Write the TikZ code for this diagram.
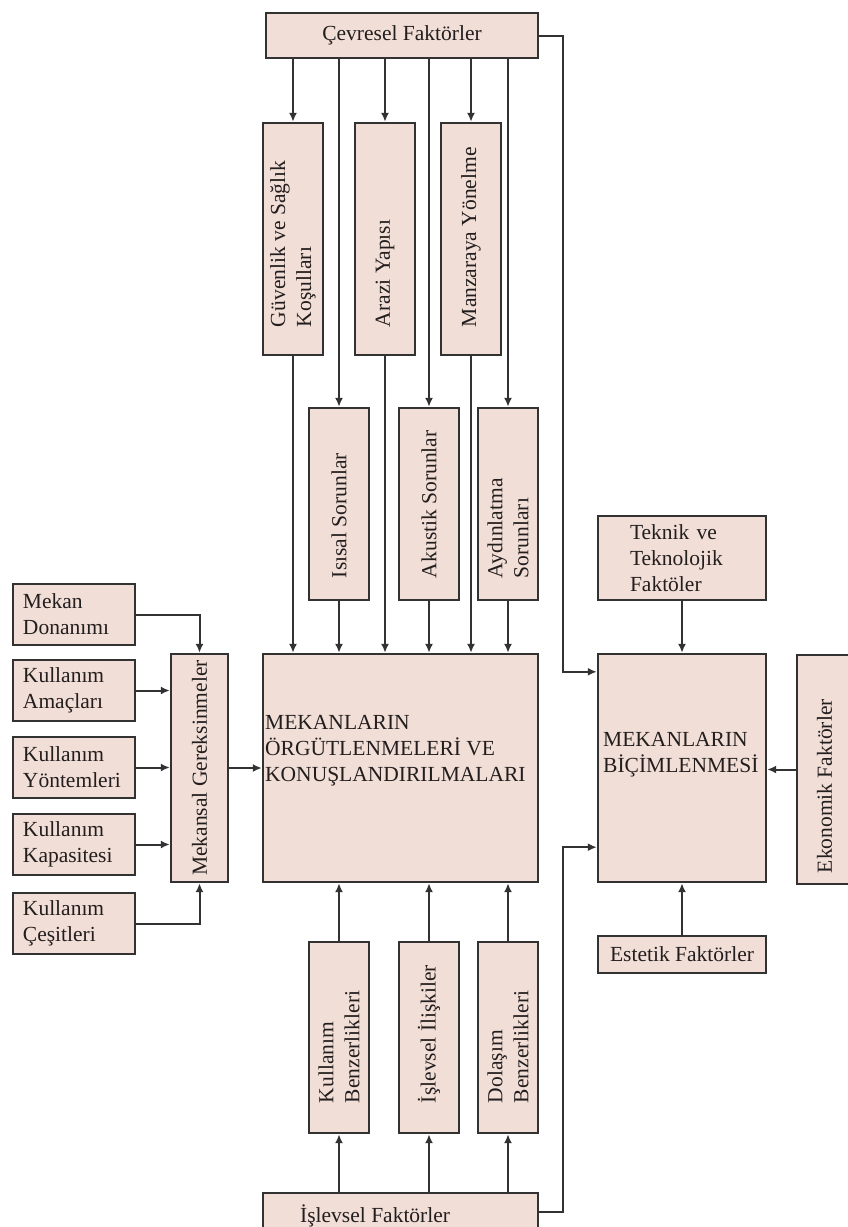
\documentclass[tikz,border=0pt]{standalone}
\usepackage{fontspec}
\setmainfont{Liberation Serif}
\usetikzlibrary{arrows.meta}

\definecolor{boxfill}{RGB}{241,222,215}
\definecolor{edge}{RGB}{50,50,50}
\definecolor{ink}{RGB}{35,30,30}
\newcommand{\vlabel}[3]{\rotatebox{90}{\parbox{#1pt}{\raggedright\leftskip=#2pt #3}}}
\newcommand{\clabel}[2]{\rotatebox{90}{\parbox{#1pt}{\centering #2}}}

\begin{document}
\begin{tikzpicture}[x=1pt, y=-1pt,
		box/.style={draw=edge, line width=2.4pt, fill=boxfill, inner sep=0pt, text=ink, font=\fontsize{21.5}{26}\selectfont},
		txt/.style={inner sep=0pt, text=ink, font=\fontsize{21.5}{26}\selectfont, align=left},
		arr/.style={draw=edge, line width=2pt, -{Latex[length=9pt,width=8pt]}}]
		\path[fill=white] (0,0) rectangle (848,1227);
		\useasboundingbox (0,0) rectangle (848,1227);
		
		\node[box, minimum width=272pt, minimum height=45pt] (cevresel) at (402,35.5) {Çevresel Faktörler};
		
		\node[box, minimum width=60pt, minimum height=232pt] (guvenlik) at (293,239) {\vlabel{232}{28}{Güvenlik ve Sağlık\\Koşulları}};
		\node[box, minimum width=60pt, minimum height=232pt] (arazi) at (385,239) {\vlabel{232}{28}{Arazi Yapısı}};
		\node[box, minimum width=60pt, minimum height=232pt] (manzara) at (471,239) {\vlabel{232}{28}{Manzaraya Yönelme}};
		
		\node[box, minimum width=60pt, minimum height=192pt] (isisal) at (339,504) {\vlabel{192}{22}{Isısal Sorunlar}};
		\node[box, minimum width=60pt, minimum height=192pt] (akustik) at (429,504) {\vlabel{192}{22}{Akustik Sorunlar}};
		\node[box, minimum width=60pt, minimum height=192pt] (aydin) at (508,504) {\vlabel{192}{22}{Aydınlatma\\Sorunları}};
		
		\node[box, minimum width=275pt, minimum height=228pt] (orgut) at (400.5,768) {};
		\node[txt, anchor=west] (orgut text) at (265,751) {MEKANLARIN\\ÖRGÜTLENMELERİ VE\\KONUŞLANDIRILMALARI};
		
		\node[box, minimum width=60pt, minimum height=191pt] (kullben) at (339,1037.5) {\vlabel{191}{30}{Kullanım\\Benzerlikleri}};
		\node[box, minimum width=60pt, minimum height=191pt] (iliski) at (429,1037.5) {\vlabel{191}{30}{İşlevsel İlişkiler}};
		\node[box, minimum width=60pt, minimum height=191pt] (dolasim) at (508,1037.5) {\vlabel{191}{30}{Dolaşım\\Benzerlikleri}};
		
		\node[box, minimum width=275pt, minimum height=38pt] (islevsel) at (400.5,1212) {};
		\node[txt, anchor=base west] (islevsel text) at (300,1222) {İşlevsel Faktörler};
		
		\node[box, minimum width=57pt, minimum height=228pt] (mekansal) at (199.5,768) {\clabel{222}{Mekansal Gereksinmeler}};
		
		\node[box, minimum width=122pt, minimum height=61pt, text width=102pt, align=left] (donanim) at (74,614.5) {Mekan\\Donanımı};
		\node[box, minimum width=122pt, minimum height=61pt, text width=102pt, align=left] (amac) at (74,690.5) {Kullanım\\Amaçları};
		\node[box, minimum width=122pt, minimum height=61pt, text width=102pt, align=left] (yontem) at (74,767.5) {Kullanım\\Yöntemleri};
		\node[box, minimum width=122pt, minimum height=61pt, text width=102pt, align=left] (kapasite) at (74,844.5) {Kullanım\\Kapasitesi};
		\node[box, minimum width=122pt, minimum height=61pt, text width=102pt, align=left] (cesit) at (74,923.5) {Kullanım\\Çeşitleri};
		
		\node[box, minimum width=168pt, minimum height=228pt] (bicim) at (682,768) {};
		\node[txt, anchor=west] (bicim text) at (603,755) {MEKANLARIN\\BİÇİMLENMESİ};
		\node[box, minimum width=168pt, minimum height=84pt, text width=104pt, align=left] (teknik) at (682,558) {Teknik ve\\Teknolojik\\Faktöler};
		\node[box, minimum width=168pt, minimum height=37pt] (estetik) at (682,954.5) {Estetik Faktörler};
		\node[box, minimum width=55pt, minimum height=229pt] (ekonomik) at (824.5,769.5) {\vlabel{229}{11}{Ekonomik Faktörler}};
		
		\coordinate (rail) at (563,0);
		\coordinate (bicim upper) at ([yshift=-19pt]bicim.north west);
		\coordinate (bicim lower) at ([yshift=36pt]bicim.south west);
		
		\foreach \n in {guvenlik, arazi, manzara, isisal, akustik, aydin}
		\draw[arr] (cevresel.south -| \n.north) -- (\n.north);
		\foreach \n in {guvenlik, arazi, manzara, isisal, akustik, aydin}
		\draw[arr] (\n.south) -- (\n.south |- orgut.north);
		\foreach \n in {kullben, iliski, dolasim} {
			\draw[arr] (islevsel.north -| \n.south) -- (\n.south);
			\draw[arr] (\n.north) -- (\n.north |- orgut.south);
		}
		
		\draw[arr] (donanim.east) -| (mekansal.north);
		\foreach \n in {amac, yontem, kapasite}
		\draw[arr] (\n.east) -- (\n.east -| mekansal.west);
		\draw[arr] (cesit.east) -| (mekansal.south);
		\draw[arr] (mekansal.east) -- (mekansal.east -| orgut.west);
		
		\draw[arr] (cevresel.east) -| (rail |- bicim upper) -- (bicim upper);
		\draw[arr] (islevsel.east) -| (rail |- bicim lower) -- (bicim lower);
		\draw[arr] (teknik.south) -- (bicim.north);
		\draw[arr] (estetik.north) -- (bicim.south);
		\draw[arr] (ekonomik.west) -- (ekonomik.west -| bicim.east);
	\end{tikzpicture}
\end{document}
